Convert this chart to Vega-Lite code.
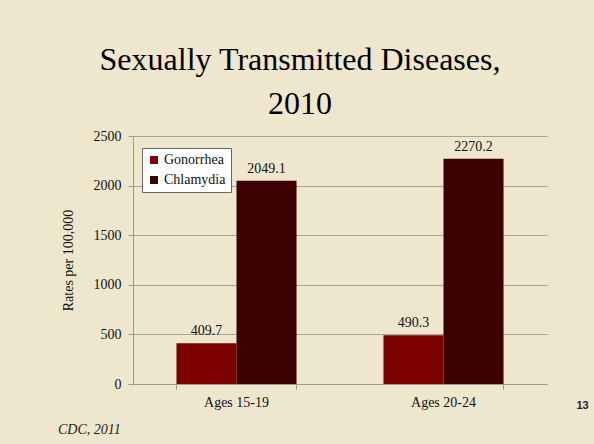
{
  "$schema": "https://vega.github.io/schema/vega-lite/v6.json",
  "width": 414,
  "height": 248,
  "autosize": "none",
  "padding": {"left": 133, "top": 136, "right": 47, "bottom": 60},
  "background": "#efe7cd",
  "title": {
    "text": ["Sexually Transmitted Diseases,", "2010"],
    "font": "Liberation Serif",
    "fontSize": 32,
    "fontWeight": "normal",
    "color": "#000000",
    "lineHeight": 44,
    "anchor": "middle",
    "frame": "group",
    "dx": -40,
    "offset": 8
  },
  "data": {
    "values": [
      {"age": "Ages 15-19", "disease": "Gonorrhea", "rate": 409.7},
      {"age": "Ages 15-19", "disease": "Chlamydia", "rate": 2049.1},
      {"age": "Ages 20-24", "disease": "Gonorrhea", "rate": 490.3},
      {"age": "Ages 20-24", "disease": "Chlamydia", "rate": 2270.2}
    ]
  },
  "encoding": {
    "x": {
      "field": "age",
      "type": "nominal",
      "scale": {"paddingInner": 0.42, "paddingOuter": 0.21},
      "axis": {
        "title": "CDC, 2011",
        "titleFont": "Liberation Serif",
        "titleFontStyle": "italic",
        "titleFontWeight": "normal",
        "titleFontSize": 14,
        "titleColor": "#222222",
        "titleAnchor": "start",
        "titleAlign": "left",
        "titleBaseline": "middle",
        "titleX": -75.5,
        "titleY": 45,
        "labelAngle": 0,
        "labelFontSize": 14,
        "labelColor": "#111111",
        "labelPadding": 6,
        "bandPosition": 1,
        "tickExtra": true,
        "tickSize": 5,
        "tickColor": "#9a9a94",
        "domainColor": "#9a9a94",
        "grid": false
      }
    },
    "xOffset": {
      "field": "disease",
      "type": "nominal",
      "sort": ["Gonorrhea", "Chlamydia"],
      "scale": {"paddingInner": 0, "paddingOuter": 0}
    }
  },
  "layer": [
    {
      "mark": {"type": "bar"},
      "encoding": {
        "y": {
          "field": "rate",
          "type": "quantitative",
          "scale": {"domain": [0, 2500]},
          "axis": {
            "orient": "left",
            "title": "Rates per 100,000",
            "titleFont": "Liberation Serif",
            "titleFontSize": 14,
            "titleFontWeight": "normal",
            "titleColor": "#111111",
            "titlePadding": 18,
            "values": [0, 500, 1000, 1500, 2000, 2500],
            "format": "d",
            "labelFont": "Liberation Serif",
            "labelFontSize": 14,
            "labelColor": "#111111",
            "labelPadding": 7,
            "tickSize": 5,
            "tickColor": "#9a9a94",
            "domainColor": "#9a9a94",
            "grid": true,
            "gridColor": "#a3a39c",
            "gridWidth": 1
          }
        },
        "color": {
          "field": "disease",
          "type": "nominal",
          "title": null,
          "sort": ["Gonorrhea", "Chlamydia"],
          "scale": {"domain": ["Gonorrhea", "Chlamydia"], "range": ["#7d0000", "#3d0000"]},
          "legend": {
            "orient": "none",
            "legendX": 9,
            "legendY": 12,
            "symbolType": "square",
            "symbolSize": 64,
            "symbolStrokeWidth": 0,
            "labelFont": "Liberation Serif",
            "labelFontSize": 14,
            "labelColor": "#111111",
            "labelOffset": 3,
            "rowPadding": 6,
            "padding": 5,
            "fillColor": "#ffffff",
            "strokeColor": "#666666"
          }
        }
      }
    },
    {
      "mark": {"type": "text", "baseline": "middle", "dy": -12, "fontSize": 14, "font": "Liberation Serif", "color": "#111111"},
      "encoding": {
        "y": {
          "field": "rate",
          "type": "quantitative",
          "scale": {"domain": [0, 2500]},
          "axis": {
            "orient": "right",
            "title": "13",
            "titleAngle": 0,
            "titleFont": "Liberation Sans",
            "titleFontWeight": "bold",
            "titleFontSize": 11,
            "titleColor": "#222222",
            "titleAlign": "center",
            "titleBaseline": "middle",
            "titleX": 35,
            "titleY": 269,
            "labels": false,
            "ticks": false,
            "domain": false,
            "grid": false
          }
        },
        "text": {"field": "rate", "type": "quantitative", "format": ".1f"}
      }
    }
  ],
  "resolve": {"axis": {"y": "independent"}},
  "config": {
    "font": "Liberation Serif",
    "axis": {"labelFont": "Liberation Serif", "titleFont": "Liberation Serif"},
    "legend": {"labelFont": "Liberation Serif"},
    "view": {"stroke": null}
  }
}
